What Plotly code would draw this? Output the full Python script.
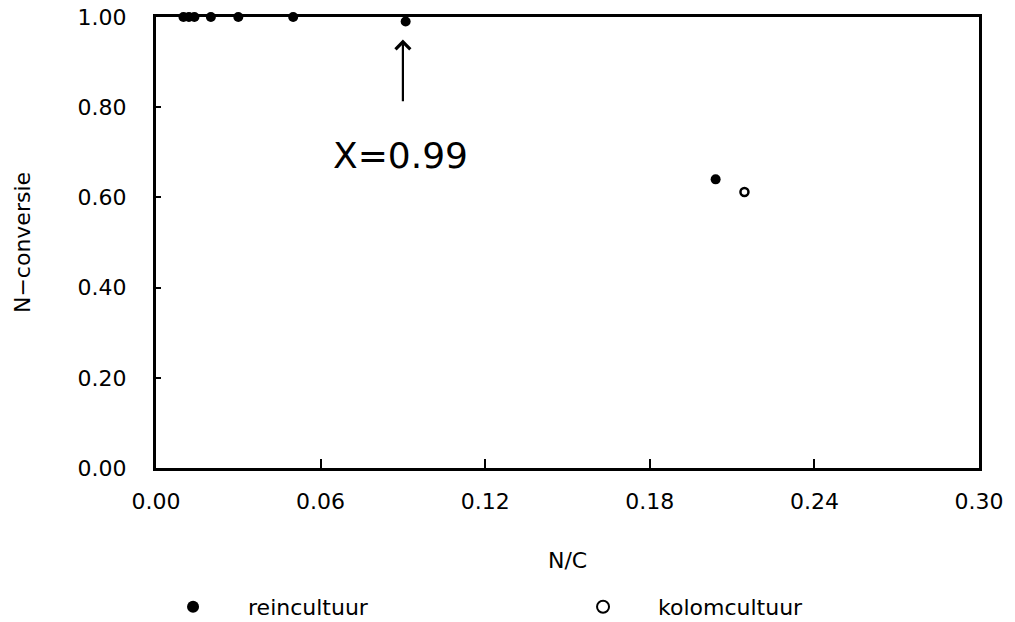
import plotly.graph_objects as go

# N/C ratio vs nitrogen conversion
rein_nc = [0.010, 0.012, 0.014, 0.020, 0.030, 0.050, 0.091, 0.204]
rein_conv = [1.00, 1.00, 1.00, 1.00, 1.00, 1.00, 0.99, 0.64]

kolom_nc = [0.2145]
kolom_conv = [0.612]

x_ticks = [0.00, 0.06, 0.12, 0.18, 0.24, 0.30]
y_ticks = [0.00, 0.20, 0.40, 0.60, 0.80, 1.00]

note_x = 0.091
note_text = "X=0.99"
x_title = "N/C"

FONT = "DejaVu Sans, Verdana, sans-serif"

fig = go.Figure()
fig.add_trace(go.Scatter(
    x=rein_nc, y=rein_conv, mode="markers", name="reincultuur",
    marker=dict(symbol="circle", size=10, color="black"),
    cliponaxis=False,
))
fig.add_trace(go.Scatter(
    x=kolom_nc, y=kolom_conv, mode="markers", name="kolomcultuur",
    marker=dict(symbol="circle-open", size=8, color="black", line=dict(width=2.5)),
    cliponaxis=False,
))

# arrow pointing at the X=0.99 point
fig.add_annotation(
    x=note_x - 0.001, y=0.95, ax=note_x - 0.001, ay=0.81,
    xref="x", yref="y", axref="x", ayref="y",
    text="", showarrow=True, arrowhead=4, arrowsize=1.3, arrowwidth=2.2,
    arrowcolor="black",
)
fig.add_annotation(
    x=note_x - 0.002, y=0.694, xref="x", yref="y", text=note_text,
    showarrow=False, font=dict(family=FONT, size=36, color="black"),
)

# x-axis title placed as free text below the tick labels
fig.add_annotation(
    x=0.5, y=-0.204, xref="paper", yref="paper", yanchor="middle",
    text=x_title, showarrow=False,
    font=dict(family=FONT, size=22, color="black"),
)

axis_common = dict(
    showgrid=False, zeroline=False, showline=True, linecolor="black",
    linewidth=3, mirror=True, ticks="inside", tickcolor="black",
    tickwidth=2, tickfont=dict(family=FONT, size=22, color="black"),
    automargin=False,
)
fig.update_xaxes(
    range=[0, 0.30], tickvals=x_ticks, ticktext=[f"{v:.2f}" for v in x_ticks],
    ticklen=9, ticklabelstandoff=12,
    **axis_common,
)
fig.update_yaxes(
    range=[0, 1.0], tickvals=y_ticks, ticktext=[f"{v:.2f}" for v in y_ticks],
    ticklen=5, ticklabelstandoff=22,
    title=dict(text="N\u2212conversie", font=dict(family=FONT, size=22, color="black"), standoff=41),
    **axis_common,
)

fig.update_layout(
    width=1015, height=622,
    margin=dict(l=156, r=36, t=17, b=154),
    paper_bgcolor="white", plot_bgcolor="white",
    showlegend=True,
    legend=dict(
        orientation="h", xref="container", yref="container",
        x=0.136, xanchor="left", y=0.0241, yanchor="middle",
        itemwidth=100, entrywidth=295, entrywidthmode="pixels",
        itemsizing="constant",
        font=dict(family=FONT, size=22, color="black"),
        bgcolor="rgba(0,0,0,0)",
    ),
)

fig.write_html("out.html")
